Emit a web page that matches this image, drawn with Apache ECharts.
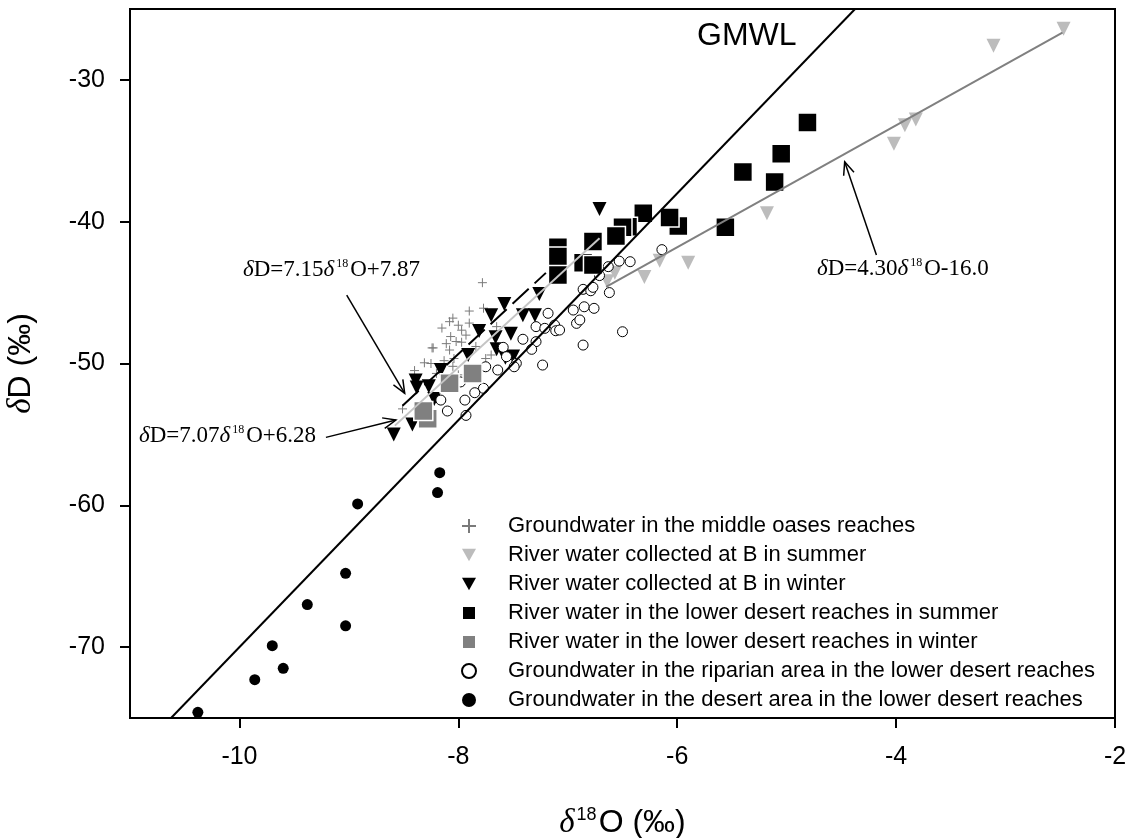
<!DOCTYPE html>
<html><head><meta charset="utf-8">
<script src="https://cdn.jsdelivr.net/npm/echarts@6/dist/echarts.min.js"></script>
<style>html,body{margin:0;padding:0;background:#fff}#c{width:1131px;height:838px}</style>
</head><body><div id="c"></div>
<script>
// ---- data ----
const seriesNames = [
  'Groundwater in the middle oases reaches',
  'River water collected at B in summer',
  'River water collected at B in winter',
  'River water in the lower desert reaches in summer',
  'River water in the lower desert reaches in winter',
  'Groundwater in the riparian area in the lower desert reaches',
  'Groundwater in the desert area in the lower desert reaches'
];
const gwMiddleOases = [[-8.51,-53.2],[-8.31,-49.95],[-8.24,-48.9],[-8.08,-47.05],[-8.02,-48.45],[-7.97,-47.65],[-7.90,-47.15],[-7.84,-48.8],[-8.08,-49.05],[-8.11,-48.6],[-8.07,-48.1],[-8.04,-49.65],[-7.97,-48.5],[-7.75,-49.65],[-7.70,-49.4],[-7.65,-47.4],[-7.77,-46.1],[-7.78,-44.3],[-8.23,-48.9],[-8.25,-50.0],[-8.15,-47.5],[-8.00,-47.3],[-8.05,-50.2],[-8.13,-49.8],[-7.93,-48.0],[-8.00,-50.8],[-8.40,-50.5],[-8.20,-50.7],[-7.90,-46.3],[-8.05,-46.8]];
const riverBSummer = [[-2.47,-26.4],[-3.11,-27.6],[-3.82,-32.8],[-3.92,-33.2],[-4.02,-34.5],[-5.18,-39.4],[-5.90,-42.9],[-6.16,-42.75],[-6.30,-43.9],[-6.57,-43.6],[-6.64,-44.2]];
const riverBWinter = [[-8.59,-55.0],[-8.42,-54.3],[-8.39,-51.2],[-8.38,-51.7],[-8.27,-51.6],[-8.22,-52.5],[-8.16,-50.45],[-7.91,-49.4],[-7.81,-47.7],[-7.70,-46.6],[-7.66,-48.15],[-7.65,-49.0],[-7.57,-49.6],[-7.58,-45.8],[-7.52,-47.9],[-7.50,-49.5],[-7.41,-46.6],[-7.30,-46.6],[-7.26,-45.1],[-6.71,-39.1]];
const riverLowerSummer = [[-7.09,-41.8],[-6.86,-42.9],[-5.99,-40.3],[-4.81,-33.0],[-5.05,-35.2],[-5.40,-36.5],[-5.11,-37.2],[-5.56,-40.4],[-6.07,-39.7],[-6.31,-39.4],[-6.45,-40.35],[-6.50,-40.4],[-6.56,-41.0],[-6.77,-41.4],[-6.77,-43.05],[-7.09,-42.45],[-7.09,-43.76]];
const riverLowerWinter = [[-7.87,-50.7],[-8.08,-51.4],[-8.28,-53.9],[-8.32,-53.35]];
const gwRiparian = [[-7.18,-46.46],[-7.29,-47.4],[-7.21,-47.52],[-7.12,-47.29],[-7.11,-47.69],[-6.95,-46.23],[-6.92,-47.17],[-7.41,-48.29],[-7.29,-48.46],[-7.33,-49.0],[-7.59,-48.86],[-7.56,-49.52],[-7.47,-49.99],[-7.49,-50.23],[-7.23,-50.11],[-7.75,-50.23],[-7.64,-50.46],[-7.98,-51.3],[-7.77,-51.75],[-7.85,-52.06],[-7.94,-52.58],[-8.16,-52.58],[-8.10,-53.35],[-7.93,-53.66],[-6.85,-46.0],[-6.76,-46.11],[-6.89,-46.93],[-6.86,-48.7],[-6.50,-47.76],[-6.86,-44.77],[-6.79,-44.87],[-6.71,-43.8],[-6.63,-43.17],[-6.53,-42.78],[-6.43,-42.82],[-6.62,-45.0],[-6.14,-41.97],[-6.77,-44.63],[-7.075,-47.64]];
const gwDesert = [[-8.17,-57.7],[-8.19,-59.1],[-8.92,-59.9],[-9.03,-64.8],[-9.38,-67.0],[-9.03,-68.5],[-9.70,-69.9],[-9.60,-71.5],[-9.86,-72.3],[-10.38,-74.6]];
// lines: [slope, intercept], x-range
const gmwlCoef = [8, 10];           const gmwlX = [-10.625, -4.375];
const fitWinterLower = [7.07, 6.28]; const fitWinterLowerX = [-8.58, -6.71];
const fitWinterB = [7.15, 7.87];     const fitWinterBX = [-8.51, -7.20];
const fitSummer = [4.30, -16.0];     const fitSummerX = [-6.65, -2.48];
const xTicks = [-10, -8, -6, -4, -2];
const yTicks = [-70, -60, -50, -40, -30];

function seg(c, xr) { return xr.map(x => [x, c[0] * x + c[1]]); }

const chart = echarts.init(document.getElementById('c'), null, {renderer: 'canvas'});
const SANS = 'Liberation Sans, Arial, sans-serif';
const SERIF = 'Liberation Serif, Times New Roman, serif';
const crossPath = 'path://M0,5L10,5M5,0L5,10';
const downTri = 'path://M0,0L10,0L5,9Z';

chart.setOption({
  animation: false,
  backgroundColor: '#fff',
  grid: {left: 130, right: 16, top: 9, bottom: 120, show: true, borderColor: '#000', borderWidth: 2,
         containLabel: false, outerBoundsMode: 'none'},
  xAxis: {
    type: 'value', min: -11, max: -2,
    axisLine: {show: true, lineStyle: {color: '#000', width: 2}},
    axisTick: {show: true, length: 10, lineStyle: {color: '#000', width: 2}, customValues: xTicks},
    axisLabel: {customValues: xTicks, color: '#000', fontSize: 25, fontFamily: SANS, margin: 27},
    splitLine: {show: false},
    name: '{i|δ}{s|18}{n|O (‰)}', nameLocation: 'middle', nameGap: 88,
    nameTextStyle: {rich: {
      i: {fontFamily: SERIF, fontStyle: 'italic', fontSize: 33, color: '#000'},
      s: {fontFamily: SANS, fontSize: 18, color: '#000', verticalAlign: 'top', padding: [0,2,16,2]},
      n: {fontFamily: SANS, fontSize: 32, color: '#000'}
    }}
  },
  yAxis: {
    type: 'value', min: -75, max: -25,
    axisLine: {show: true, lineStyle: {color: '#000', width: 2}},
    axisTick: {show: true, length: 10, lineStyle: {color: '#000', width: 2}, customValues: yTicks},
    axisLabel: {customValues: yTicks, color: '#000', fontSize: 25, fontFamily: SANS, margin: 25},
    splitLine: {show: false},
    name: '{i|δ}{n|D (‰)}', nameLocation: 'middle', nameGap: 92,
    nameTextStyle: {rich: {
      i: {fontFamily: SERIF, fontStyle: 'italic', fontSize: 33, color: '#000'},
      n: {fontFamily: SANS, fontSize: 32, color: '#000'}
    }}
  },
  legend: {
    orient: 'vertical', left: 456, top: 510, itemGap: 7, itemWidth: 14, itemHeight: 14,
    data: seriesNames.map((n, i) => (i === 1 || i === 2) ? {name: n, icon: downTri} : {name: n}),
    textStyle: {fontFamily: SANS, fontSize: 22, color: '#000', padding: [0,0,0,27]}
  },
  series: [
    {name: seriesNames[0], type: 'scatter', data: gwMiddleOases, symbol: crossPath, symbolSize: 9,
     itemStyle: {color: 'rgba(0,0,0,0)', borderColor: '#7a7a7a', borderWidth: 1, opacity: 1}, z: 2},
    {name: seriesNames[1], type: 'scatter', data: riverBSummer, symbol: 'triangle', symbolRotate: 180, symbolSize: 14,
     itemStyle: {color: '#bcbcbc', opacity: 1}, z: 2},
    {name: seriesNames[2], type: 'scatter', data: riverBWinter, symbol: 'triangle', symbolRotate: 180, symbolSize: 14,
     itemStyle: {color: '#000', opacity: 1}, z: 2},
    {name: seriesNames[3], type: 'scatter', data: riverLowerSummer, symbol: 'rect', symbolSize: 19,
     itemStyle: {color: '#000', borderColor: '#fff', borderWidth: 1.5, opacity: 1}, z: 3},
    {name: seriesNames[4], type: 'scatter', data: riverLowerWinter, symbol: 'rect', symbolSize: 19,
     itemStyle: {color: '#808080', borderColor: '#fff', borderWidth: 1.5, opacity: 1}, z: 3},
    {name: seriesNames[5], type: 'scatter', data: gwRiparian, symbol: 'circle', symbolSize: 10,
     itemStyle: {color: '#fff', borderColor: '#000', borderWidth: 1, opacity: 1}, z: 2},
    {name: seriesNames[6], type: 'scatter', data: gwDesert, symbol: 'circle', symbolSize: 11,
     itemStyle: {color: '#000', opacity: 1}, z: 2},
    {name: 'GMWL', type: 'line', data: seg(gmwlCoef, gmwlX), symbol: 'none', clip: true,
     lineStyle: {color: '#000', width: 2}, z: 4},
    {name: 'fitWinterLower', type: 'line', data: seg(fitWinterLower, fitWinterLowerX), symbol: 'none',
     lineStyle: {color: '#c4c4c4', width: 2}, z: 4},
    {name: 'fitWinterB', type: 'line', data: seg(fitWinterB, fitWinterBX), symbol: 'none',
     lineStyle: {color: '#000', width: 2, type: [22, 8]}, z: 4},
    {name: 'fitSummer', type: 'line', data: seg(fitSummer, fitSummerX), symbol: 'none',
     lineStyle: {color: '#808080', width: 2}, z: 4}
  ]
});

// annotations
const ann = [
  {t: '{i|δ}D=7.15{i|δ}{s|18}O+7.87', x: 243, y: 282},
  {t: '{i|δ}D=7.07{i|δ}{s|18}O+6.28', x: 139, y: 448},
  {t: '{i|δ}D=4.30{i|δ}{s|18}O-16.0', x: 817, y: 281}
];
const arrows = [
  {from: [-9.02, -45.18], to: [-8.49, -52.10]},
  {from: [-9.21, -55.21], to: [-8.57, -53.99]},
  {from: [-4.18, -42.35], to: [-4.47, -35.77]}
];
const g = [];
ann.forEach(a => g.push({type: 'text', x: a.x, y: a.y, z: 10, style: {
  text: a.t, fill: '#000', font: '23px ' + SERIF, verticalAlign: 'bottom',
  rich: {
    i: {fontFamily: SERIF, fontStyle: 'italic', fontSize: 23},
    s: {fontFamily: SERIF, fontSize: 12, verticalAlign: 'top', padding: [0,2,12,2]}
  }}}));
arrows.forEach(a => {
  const p0 = chart.convertToPixel({gridIndex: 0}, a.from);
  const p1 = chart.convertToPixel({gridIndex: 0}, a.to);
  const ang = Math.atan2(p1[1]-p0[1], p1[0]-p0[0]);
  const L = 14, w = 0.4;
  const h1 = [p1[0]-L*Math.cos(ang-w), p1[1]-L*Math.sin(ang-w)];
  const h2 = [p1[0]-L*Math.cos(ang+w), p1[1]-L*Math.sin(ang+w)];
  g.push({type: 'line', z: 10, shape: {x1: p0[0], y1: p0[1], x2: p1[0], y2: p1[1]}, style: {stroke: '#000', lineWidth: 1.5}});
  g.push({type: 'polyline', z: 10, shape: {points: [h1, p1, h2]}, style: {stroke: '#000', lineWidth: 1.5, fill: null}});
});
g.push({type: 'text', x: 697, y: 52, z: 10, style: {text: 'GMWL', fill: '#000', font: '32px ' + SANS, verticalAlign: 'bottom'}});
chart.setOption({graphic: g});
</script></body></html>
